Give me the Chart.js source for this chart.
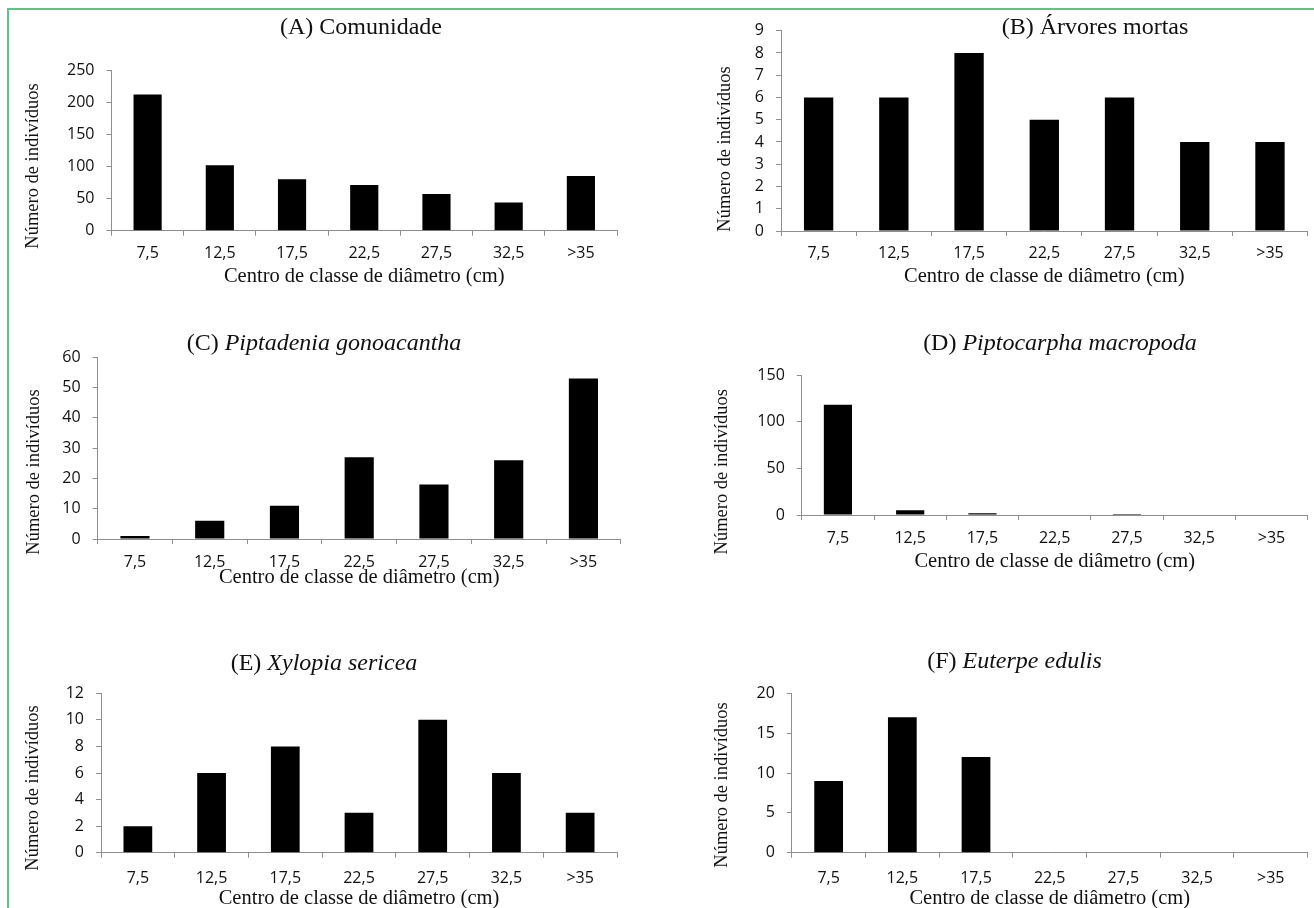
<!DOCTYPE html>
<html lang="pt">
<head>
<meta charset="utf-8">
<title>Distribuição diamétrica</title>
<script src="https://cdn.jsdelivr.net/npm/chart.js@4.4.1/dist/chart.umd.min.js"></script>
<style>
  html, body { margin: 0; padding: 0; background: #fff; }
  #page { position: relative; width: 1314px; height: 908px; overflow: hidden; }
  #frame {
    position: absolute; left: 7px; top: 8px; right: 0; bottom: -4px;
    border-left: 2px solid #5fc286; border-top: 2px solid #5fc286;
    pointer-events: none;
  }
  #page canvas { position: absolute; }
</style>
</head>
<body>
<div id="page">
  <div id="frame"></div>
</div>

<script>
// diameter class centres (cm)
const classes = ["7,5", "12,5", "17,5", "22,5", "27,5", "32,5", ">35"];

// number of individuals per class
const comunidade    = [212, 102, 80, 71, 57, 44, 85];
const arvoresMortas = [6, 6, 8, 5, 6, 4, 4];
const piptadenia    = [1, 6, 11, 27, 18, 26, 53];
const piptocarpha   = [118, 5, 2, 0, 1, 0, 0];
const xylopia       = [2, 6, 8, 3, 10, 6, 3];
const euterpe       = [9, 17, 12, 0, 0, 0, 0];

const yTitle = "Número de indivíduos";
const xTitle = "Centro de classe de diâmetro (cm)";

const SERIF = "'Liberation Serif', 'Times New Roman', serif";
const SANS = "'Open Sans', Lato, sans-serif";
const AXIS_GRAY = "#8f8f8f";
const TICK_COLOR = "#111";
const TICK_SIZE = 16;
const X_TITLE_SIZE = 20.5;

// plot box = [left, top, right, bottom] in page pixels
const panels = [
  { prefix: "(A) ", name: "Comunidade", italic: false, data: comunidade, max: 250, step: 50,
    origin: [0, 0], box: [111.5, 70, 617, 230.7], title: [361, 28], yTitleAt: [33, 166], labelY: 252, xTitleY: 277 },
  { prefix: "(B) ", name: "Árvores mortas", italic: false, data: arvoresMortas, max: 9, step: 1,
    origin: [657, 0], box: [781, 30.7, 1307.6, 231], title: [1095, 28], yTitleAt: [725, 149], labelY: 252, xTitleY: 277 },
  { prefix: "(C) ", name: "Piptadenia gonoacantha", italic: true, data: piptadenia, max: 60, step: 10,
    origin: [0, 305], box: [97.6, 357.3, 620.8, 539], title: [324, 344], yTitleAt: [34, 472], labelY: 560.7, xTitleY: 578 },
  { prefix: "(D) ", name: "Piptocarpha macropoda", italic: true, data: piptocarpha, max: 150, step: 50,
    origin: [657, 305], box: [801.8, 375, 1307.6, 515], title: [1060, 343.3], yTitleAt: [722.5, 471.7], labelY: 537.3, xTitleY: 561.7 },
  { prefix: "(E) ", name: "Xylopia sericea", italic: true, data: xylopia, max: 12, step: 2,
    origin: [0, 615], box: [101, 693.3, 617, 852.7], title: [324, 663.3], yTitleAt: [33, 788], labelY: 876.7, xTitleY: 899 },
  { prefix: "(F) ", name: "Euterpe edulis", italic: true, data: euterpe, max: 20, step: 5,
    origin: [657, 615], box: [791.8, 693.3, 1307.6, 852.7], title: [1014.5, 661.7], yTitleAt: [722.5, 785], labelY: 876.7, xTitleY: 899 }
];

// panel title (with italic species name) and rotated y title
const panelText = {
  id: "panelText",
  afterDraw(chart, args, opts) {
    const ctx = chart.ctx;
    ctx.save();
    ctx.fillStyle = "#111";
    ctx.textBaseline = "middle";
    ctx.textAlign = "left";

    const plain = "24px " + SERIF;
    const named = (opts.italic ? "italic " : "") + "24px " + SERIF;
    ctx.font = plain;
    const w1 = ctx.measureText(opts.prefix).width;
    ctx.font = named;
    const w2 = ctx.measureText(opts.name).width;
    const x0 = opts.titleX - (w1 + w2) / 2;
    ctx.font = plain;
    ctx.fillText(opts.prefix, x0, opts.titleY);
    ctx.font = named;
    ctx.fillText(opts.name, x0 + w1, opts.titleY);

    ctx.translate(opts.yTitleX, opts.yTitleY);
    ctx.rotate(-Math.PI / 2);
    ctx.textAlign = "center";
    ctx.font = "18.5px " + SERIF;
    ctx.fillText(opts.yTitle, 0, 0);
    ctx.restore();
  }
};

const page = document.getElementById("page");

panels.forEach(p => {
  const [left, top] = p.origin;
  const [L, T, R, B] = p.box;
  const width = Math.ceil(R) + 5 - left;
  const height = Math.ceil(p.xTitleY + 14) - top;
  const xTitleLine = X_TITLE_SIZE * 1.2;
  const xAxisHeight = p.xTitleY - B + xTitleLine / 2;

  const canvas = document.createElement("canvas");
  canvas.width = width;
  canvas.height = height;
  canvas.style.left = left + "px";
  canvas.style.top = top + "px";
  canvas.style.width = width + "px";
  canvas.style.height = height + "px";
  page.insertBefore(canvas, document.getElementById("frame"));

  new Chart(canvas, {
    type: "bar",
    data: {
      labels: classes,
      datasets: [{
        data: p.data,
        backgroundColor: "#000",
        borderWidth: 0,
        barPercentage: 0.39,
        categoryPercentage: 1.0
      }]
    },
    options: {
      responsive: false,
      animation: false,
      devicePixelRatio: 1,
      layout: {
        padding: {
          left: 0,
          top: T - top,
          right: width - (R - left),
          bottom: height - (B - top) - xAxisHeight
        }
      },
      plugins: {
        legend: { display: false },
        title: { display: false },
        tooltip: { enabled: false },
        panelText: {
          prefix: p.prefix,
          name: p.name,
          italic: p.italic,
          titleX: p.title[0] - left,
          titleY: p.title[1] - top,
          yTitle: yTitle,
          yTitleX: p.yTitleAt[0] - left,
          yTitleY: p.yTitleAt[1] - top
        }
      },
      scales: {
        x: {
          offset: true,
          grid: {
            display: true,
            offset: true,
            drawOnChartArea: false,
            drawTicks: true,
            tickLength: 5,
            color: AXIS_GRAY
          },
          border: { display: true, color: AXIS_GRAY, width: 1 },
          ticks: {
            color: TICK_COLOR,
            font: { family: SANS, size: TICK_SIZE },
            padding: p.labelY - B - 13,
            maxRotation: 0,
            autoSkip: false
          },
          title: {
            display: true,
            text: xTitle,
            color: "#111",
            font: { family: SERIF, size: X_TITLE_SIZE },
            padding: 0
          },
          afterFit: scale => { scale.height = xAxisHeight; }
        },
        y: {
          min: 0,
          max: p.max,
          grid: {
            drawOnChartArea: false,
            drawTicks: true,
            tickLength: 5,
            color: AXIS_GRAY
          },
          border: { display: true, color: AXIS_GRAY, width: 1 },
          ticks: {
            stepSize: p.step,
            color: TICK_COLOR,
            font: { family: SANS, size: TICK_SIZE },
            padding: 12
          },
          afterFit: scale => { scale.width = L - left; }
        }
      }
    },
    plugins: [panelText]
  });
});
</script>
</body>
</html>
